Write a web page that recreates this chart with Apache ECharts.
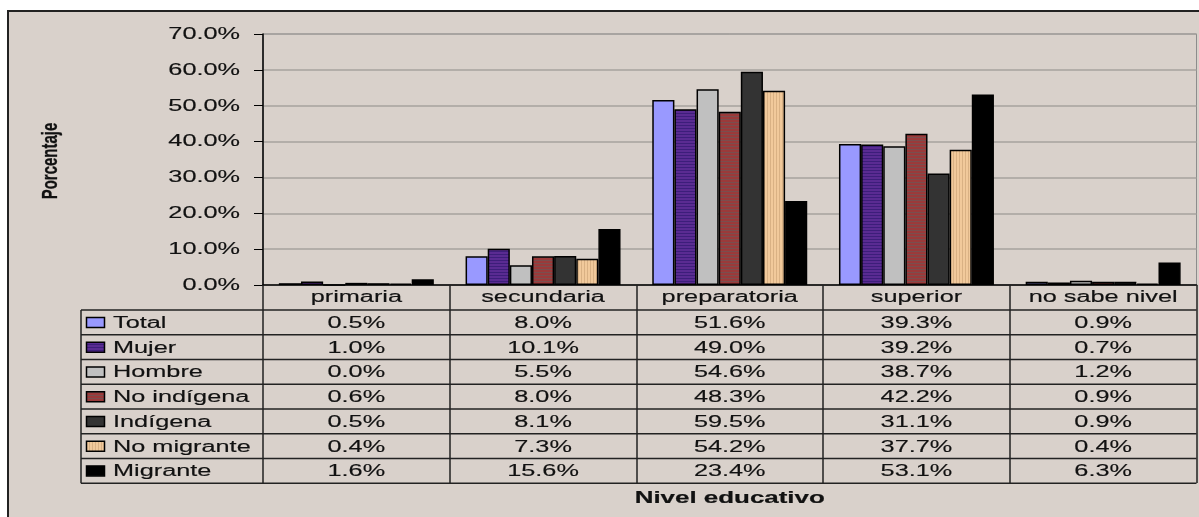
<!DOCTYPE html>
<html><head><meta charset="utf-8">
<script src="https://cdn.jsdelivr.net/npm/echarts@6/dist/echarts.min.js"></script>
<style>
html,body{margin:0;padding:0;background:#fff;overflow:hidden;}
#frame{position:absolute;left:7px;top:10px;width:1200px;height:520px;background:#d9d1cb;border-left:2px solid #222;border-top:2px solid #222;}
#chart{position:absolute;left:0;top:0;width:1199px;height:517px;}
</style></head><body>
<div id="frame"></div><div id="chart"></div>
<script>
// ---- data ----
const categories = ['primaria', 'secundaria', 'preparatoria', 'superior', 'no sabe nivel'];
const seriesNames = ['Total', 'Mujer', 'Hombre', 'No indígena', 'Indígena', 'No migrante', 'Migrante'];
const total      = [0.5, 8.0, 51.6, 39.3, 0.9];
const mujer      = [1.0, 10.1, 49.0, 39.2, 0.7];
const hombre     = [0.0, 5.5, 54.6, 38.7, 1.2];
const noIndigena = [0.6, 8.0, 48.3, 42.2, 0.9];
const indigena   = [0.5, 8.1, 59.5, 31.1, 0.9];
const noMigrante = [0.4, 7.3, 54.2, 37.7, 0.4];
const migrante   = [1.6, 15.6, 23.4, 53.1, 6.3];
const yTicks = [0, 10, 20, 30, 40, 50, 60, 70];
const xTitle = 'Nivel educativo';
const yTitle = 'Porcentaje';

const seriesValues = [total, mujer, hombre, noIndigena, indigena, noMigrante, migrante];

// ---- fills ----
function pattern(w, h, draw) {
  const c = document.createElement('canvas'); c.width = w; c.height = h;
  draw(c.getContext('2d'));
  return { image: c, repeat: 'repeat' };
}
const mujerFill = pattern(4, 3, g => { g.fillStyle = '#5a2b92'; g.fillRect(0, 0, 4, 3); g.fillStyle = '#3d1e7a'; g.fillRect(0, 2, 4, 1); });
const noIndFill = pattern(4, 3, g => { g.fillStyle = '#9b3a3a'; g.fillRect(0, 0, 4, 3); g.fillStyle = '#7a4e4e'; g.fillRect(0, 2, 4, 1); });
const noMigFill = pattern(3, 4, g => { g.fillStyle = '#f1c99b'; g.fillRect(0, 0, 3, 4); g.fillStyle = '#d9b184'; g.fillRect(2, 0, 1, 4); });
const fills = ['#9999ff', mujerFill, '#c0c0c0', noIndFill, '#333333', noMigFill, '#000000'];

const FONT = '"Liberation Sans", Arial, sans-serif';
const SX = 1.58;

const chart = echarts.init(document.getElementById('chart'), null, { renderer: 'canvas' });

const option = {
  backgroundColor: 'transparent',
  animation: false,
  grid: { left: 263, right: 2.5, top: 34, bottom: 232, show: true, borderColor: '#8c8c8c', borderWidth: 1, backgroundColor: 'transparent' },
  xAxis: {
    type: 'category', data: categories,
    axisLine: { show: true, lineStyle: { color: '#000', width: 1.5 } },
    axisTick: { show: true, length: 198, inside: false, lineStyle: { color: '#222', width: 1.5 } },
    axisLabel: { show: false },
    splitLine: { show: false }
  },
  yAxis: {
    type: 'value', min: 0, max: 70, interval: 10,
    axisLine: { show: true, lineStyle: { color: '#000', width: 1.5 } },
    axisTick: { show: true, length: 9, lineStyle: { color: '#000', width: 1 } },
    axisLabel: { show: false },
    splitLine: { show: true, lineStyle: { color: '#a6a29e', width: 1.5 } }
  },
  series: seriesNames.map((name, i) => ({
    name, type: 'bar', data: seriesValues[i],
    barGap: '0%', barCategoryGap: '17%',
    itemStyle: { color: fills[i], borderColor: '#000', borderWidth: 1.5 }
  }))
};
chart.setOption(option);

// ---- table, titles and tick labels via library coordinates ----
const gfx = [];
const cx = categories.map((c, i) => chart.convertToPixel({ xAxisIndex: 0 }, i));
const band = cx[1] - cx[0];
const y0 = chart.convertToPixel({ yAxisIndex: 0 }, 0);
const headerH = 25, rowH = 24.75, tableLeft = 81, tableRight = cx[cx.length - 1] + band / 2;
const plotLeft = cx[0] - band / 2;
const tableBottom = y0 + headerH + seriesNames.length * rowH;

function txt(text, x, y, opts) {
  return {
    type: 'text', x, y, scaleX: opts.sx || SX, scaleY: opts.sy || 1, rotation: opts.rot || 0, z: 100,
    style: { text, fill: '#111', fontFamily: FONT, fontSize: opts.size || 16, fontWeight: opts.bold ? 'bold' : 'normal',
      align: opts.align || 'center', verticalAlign: 'middle', stroke: '#111', lineWidth: opts.bold ? 0.2 : 0.15 }
  };
}
function line(x1, y1, x2, y2) {
  return { type: 'line', z: 90, shape: { x1, y1, x2, y2 }, style: { stroke: '#222', lineWidth: 1.5 } };
}

// y tick labels
yTicks.forEach(v => {
  const py = chart.convertToPixel({ yAxisIndex: 0 }, v);
  gfx.push(txt(v.toFixed(1) + '%', 240, py + 0.5, { align: 'right' }));
});

// table lines
for (let r = 0; r <= seriesNames.length; r++) {
  const yy = y0 + headerH + r * rowH;
  gfx.push(line(tableLeft, yy, tableRight, yy));
}
gfx.push(line(tableLeft, y0 + headerH, tableLeft, tableBottom));

// header
categories.forEach((c, j) => gfx.push(txt(c, cx[j], y0 + headerH / 2 + 0.5, {})));

// rows
seriesNames.forEach((name, i) => {
  const yc = y0 + headerH + i * rowH + rowH / 2;
  gfx.push({ type: 'rect', z: 95, shape: { x: 86.5, y: yc - 5, width: 18, height: 10 },
    style: { fill: fills[i], stroke: '#000', lineWidth: 1.5 } });
  gfx.push(txt(name, 113, yc + 1, { align: 'left' }));
  seriesValues[i].forEach((v, j) => gfx.push(txt(v.toFixed(1) + '%', cx[j], yc + 1, {})));
});

// titles
gfx.push(txt(xTitle, (plotLeft + tableRight) / 2, tableBottom + 15, { bold: true, sx: 1.62 }));
gfx.push(txt(yTitle, 51, 161, { bold: true, sx: 1, sy: 1.5, rot: Math.PI / 2, size: 15 }));

chart.setOption({ graphic: { elements: gfx } });
</script>
</body></html>
